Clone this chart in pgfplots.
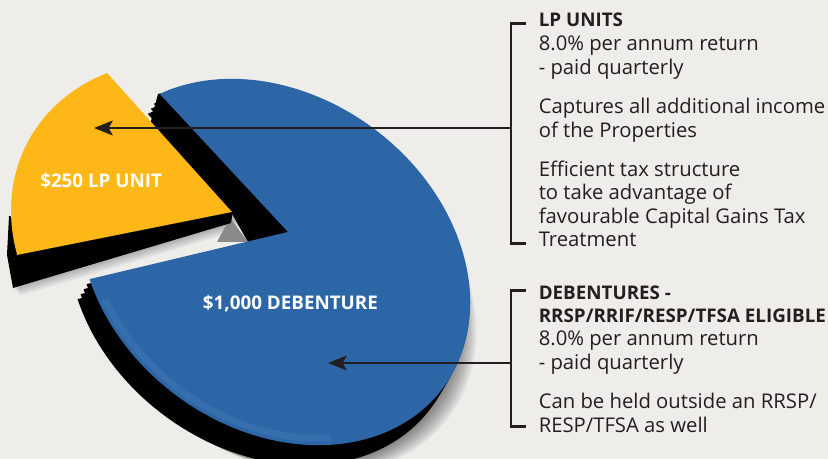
\documentclass[border=0pt]{standalone}
\usepackage{pgfplots}
\pgfplotsset{compat=1.18}
\usepackage{pgfplotstable}
\usepackage{fontspec}
\setmainfont{Open Sans}
\usetikzlibrary{arrows.meta}
\definecolor{bg}{HTML}{EEEDEA}
\definecolor{pieblue}{HTML}{2D66A7}
\definecolor{pieyellow}{HTML}{FDB817}
\definecolor{rim}{HTML}{6E9FDA}
\definecolor{txt}{HTML}{231F20}
\definecolor{gap}{HTML}{8A8A8A}

\pgfplotstableread{
name value
LP 250
DEB 1000
}\piedata
\pgfplotstablegetelem{0}{value}\of\piedata \let\vLP\pgfplotsretval
\pgfplotstablegetelem{1}{value}\of\piedata \let\vDEB\pgfplotsretval

\pgfmathsetmacro{\fLP}{\vLP/(\vLP+\vDEB)}
\pgfmathsetmacro{\fDEB}{\vDEB/(\vLP+\vDEB)}
\pgfmathsetmacro{\sLP}{157}
\pgfmathsetmacro{\eLP}{\sLP+360*\fLP}
\pgfmathsetmacro{\eDEB}{\eLP+360*\fDEB}

% sector with vertex offset (perspective), ellipse radii 210px x 166px
\newcommand{\sector}[2]{(-7.7,31.8) -- (#1:157.5pt and 124.5pt) arc[start angle=#1, end angle=#2, x radius=157.5pt, y radius=124.5pt] -- cycle}
\newcommand{\bluelayer}[3]{\begin{scope}[shift={(axis cs:#1,#2)}, rotate=-37, x=0.75pt, y=0.75pt]\fill[#3] \sector{\eLP}{\eDEB};\end{scope}}
\newcommand{\yellowlayer}[3]{\begin{scope}[shift={(axis cs:#1,#2)}, cm={1.063,-0.0186,0.083,0.989,(0,0)}, rotate=-37, x=0.75pt, y=0.75pt]\begin{scope}[shift={(7.7,-31.8)}]\fill[#3] \sector{\sLP}{\eLP};\end{scope}\end{scope}}
\newcommand{\yside}[3]{\fill[#3] (axis cs:233+#1,248+#2) -- (axis cs:231+#1,236+#2) -- (axis cs:13+#1,171+#2) -- (axis cs:7+#1,204+#2) -- (axis cs:9+#1,243+#2) -- (axis cs:60+#1,229+#2) -- cycle;}

\newcommand{\txtfont}{\fontsize{15.2}{18}\selectfont}
\newcommand{\bfont}{\bfseries\fontsize{14.1}{17}\selectfont}

\begin{document}
\begin{tikzpicture}
\begin{axis}[name=ax, at={(0,0)}, anchor=south west, x=0.75pt, y=0.75pt,
  xmin=0, xmax=828, ymin=0, ymax=459, hide axis, clip=false]
\fill[bg] (axis cs:0,0) rectangle (axis cs:828,459);

% soft drop shadows
\bluelayer{265}{176}{black, opacity=0.055}
\bluelayer{267}{175}{black, opacity=0.055}
\bluelayer{269}{174}{black, opacity=0.055}
\bluelayer{271}{173}{black, opacity=0.055}
\bluelayer{273}{172}{black, opacity=0.055}
\bluelayer{275}{171}{black, opacity=0.055}
\bluelayer{277}{170}{black, opacity=0.055}
\bluelayer{279}{169}{black, opacity=0.055}
\bluelayer{281}{168}{black, opacity=0.055}
\yside{1.5}{-1.5}{black, opacity=0.05}
\yside{3}{-3}{black, opacity=0.05}
\yside{4.5}{-4.5}{black, opacity=0.05}
\yside{6}{-6}{black, opacity=0.05}
\yside{7.5}{-7.5}{black, opacity=0.05}

% blue extrusion (side)
\bluelayer{263}{177}{black}
\bluelayer{266}{182}{black}
\bluelayer{269}{187}{black}
\bluelayer{272}{192}{black}
% cut face of the blue slice
\fill[black] (axis cs:288,227) -- (axis cs:163,366) -- (axis cs:158,365) -- (axis cs:150,334) -- (axis cs:232,245) -- (axis cs:248,217) -- cycle;
\fill[gap] (axis cs:230,241) -- (axis cs:217,217) -- (axis cs:248,217) -- cycle;

% blue top
\bluelayer{275}{197}{pieblue}
\begin{scope}[shift={(axis cs:275,197)}, rotate=-37, x=0.75pt, y=0.75pt]
\draw[rim, line width=5pt, opacity=0.14] (236:152pt and 119.5pt) arc[start angle=236, end angle=318, x radius=152pt, y radius=119.5pt];
\end{scope}

% yellow slice (exploded)
\yside{0}{0}{black}
\yellowlayer{232}{247}{pieyellow}

% labels on the slices
\node[anchor=base west, inner sep=0, text=white, font=\bfont] at (axis cs:40,271.3) {\$250 LP UNIT};
\node[anchor=base west, inner sep=0, text=white, font=\bfont] at (axis cs:202.7,149) {\$1,000 DEBENTURE};

% brackets and arrows
\draw[txt, line width=2pt] (axis cs:526,435.7) -- (axis cs:511,435.7) -- (axis cs:511,215.7) -- (axis cs:526,215.7);
\draw[txt, line width=2pt] (axis cs:526,168.3) -- (axis cs:511,168.3) -- (axis cs:511,32.3) -- (axis cs:526,32.3);
\draw[txt, line width=2pt, -{Stealth[length=14pt, width=11pt, inset=3pt]}] (axis cs:511,331) -- (axis cs:94,331);
\draw[txt, line width=2pt, -{Stealth[length=14pt, width=11pt, inset=3pt]}] (axis cs:511,96) -- (axis cs:328,96);

% texts
\begin{scope}[every node/.style={anchor=base west, inner sep=0, text=txt, font=\txtfont}]
\node[font=\bfont] at (axis cs:538.5,432.3) {LP UNITS};
\node at (axis cs:538.5,408.5) {8.0\% per annum return};
\node at (axis cs:538.5,384.7) {- paid quarterly};
\node at (axis cs:538.5,345.7) {Captures all additional income};
\node at (axis cs:538.5,321.2) {of the Properties};
\node at (axis cs:538.5,282.3) {Efficient tax structure};
\node at (axis cs:538.5,259) {to take advantage of};
\node at (axis cs:538.5,235.7) {favourable Capital Gains Tax};
\node at (axis cs:538.5,212.3) {Treatment};
\node[font=\bfont] at (axis cs:538.5,159.7) {DEBENTURES -};
\node[font=\bfont] at (axis cs:538.5,136.3) {RRSP/RRIF/RESP/TFSA ELIGIBLE};
\node at (axis cs:538.5,113) {8.0\% per annum return};
\node at (axis cs:538.5,89) {- paid quarterly};
\node at (axis cs:538.5,50.7) {Can be held outside an RRSP/};
\node at (axis cs:538.5,26.3) {RESP/TFSA as well};
\end{scope}
\end{axis}
\pgfresetboundingbox
\path (ax.south west) rectangle (ax.north east);
\end{tikzpicture}
\end{document}
